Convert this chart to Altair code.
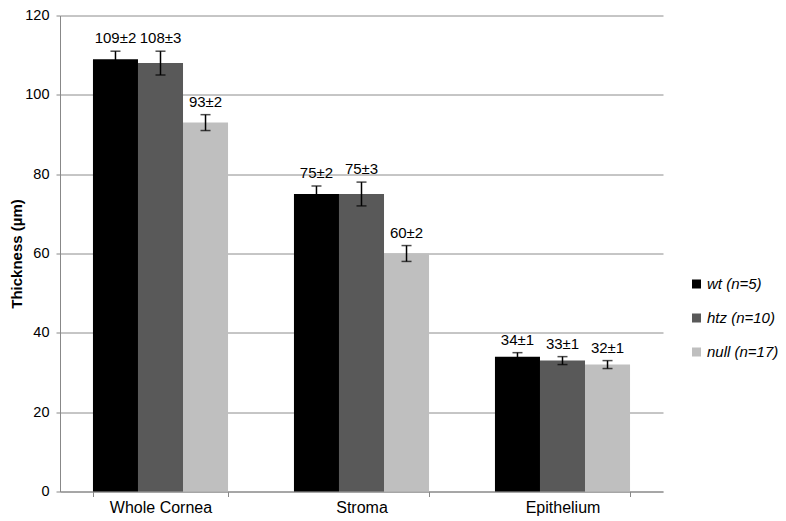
import altair as alt
import pandas as pd

categories = ["Whole Cornea", "Stroma", "Epithelium"]
groups = ["wt (n=5)", "htz (n=10)", "null (n=17)"]
colors = ["#000000", "#595959", "#bfbfbf"]
wt_mean = [109, 75, 34]
wt_err = [2, 2, 1]
htz_mean = [108, 75, 33]
htz_err = [3, 3, 1]
null_mean = [93, 60, 32]
null_err = [2, 2, 1]

rows = []
for g, means, errs in zip(groups, [wt_mean, htz_mean, null_mean], [wt_err, htz_err, null_err]):
    for c, m, e in zip(categories, means, errs):
        rows.append({"category": c, "group": g, "mean": m, "err": e,
                     "lo": m - e, "hi": m + e, "label": f"{m}±{e}"})
df = pd.DataFrame(rows)

FONT = "Liberation Sans"

x = alt.X("category:N", sort=categories, title=None,
          scale=alt.Scale(paddingInner=0.328, paddingOuter=0.164),
          axis=alt.Axis(labelAngle=0, labelFontSize=16, labelFont=FONT, labelColor="#000",
                        labelPadding=3, tickBand="extent", tickSize=5, tickColor="#888",
                        domainColor="#888", grid=False))
xo = alt.XOffset("group:N", sort=groups, scale=alt.Scale(paddingInner=0, paddingOuter=0))

base = alt.Chart(df)

bars = base.mark_bar().encode(
    x=x, xOffset=xo,
    y=alt.Y("mean:Q", title="Thickness (µm)",
            scale=alt.Scale(domain=[0, 120]),
            axis=alt.Axis(values=[0, 20, 40, 60, 80, 100, 120], labelFontSize=14.5, labelFont=FONT,
                          labelColor="#000", tickSize=4, tickColor="#888", domainColor="#888",
                          labelPadding=7,
                          gridColor="#8c8c8c", gridWidth=1, titleFont=FONT, titleFontSize=15,
                          titleFontWeight="bold", titleColor="#000", titlePadding=0)),
    color=alt.Color("group:N", sort=groups, scale=alt.Scale(domain=groups, range=colors),
                    legend=alt.Legend(title=None, orient="none", legendX=629, legendY=261,
                                      symbolType="square", symbolSize=81, symbolStrokeWidth=0,
                                      labelFont=FONT, labelFontSize=15, labelFontStyle="italic",
                                      labelColor="#000", rowPadding=18, labelOffset=3)),
)

rules = base.mark_rule(color="#000", strokeWidth=1.5).encode(
    x=x, xOffset=xo, y="lo:Q", y2="hi:Q")
caps_hi = base.mark_tick(color="#000", orient="horizontal", size=10, thickness=1.5).encode(
    x=x, xOffset=xo, y="hi:Q")
caps_lo = base.mark_tick(color="#000", orient="horizontal", size=10, thickness=1.5).encode(
    x=x, xOffset=xo, y="lo:Q")
labels = base.mark_text(baseline="bottom", dy=-5, font=FONT, fontSize=15, color="#000").encode(
    x=x, xOffset=xo, y="hi:Q", text="label:N")

chart = alt.layer(bars, rules, caps_hi, caps_lo, labels).properties(
    width=603, height=476,
    background="white",
    autosize=alt.AutoSizeParams(type="none"),
    padding={"left": 52, "top": 7.5, "right": 115, "bottom": 24.5},
).configure_view(stroke=None)

chart.save("out.html", embed_options={"renderer": "svg", "actions": False})
